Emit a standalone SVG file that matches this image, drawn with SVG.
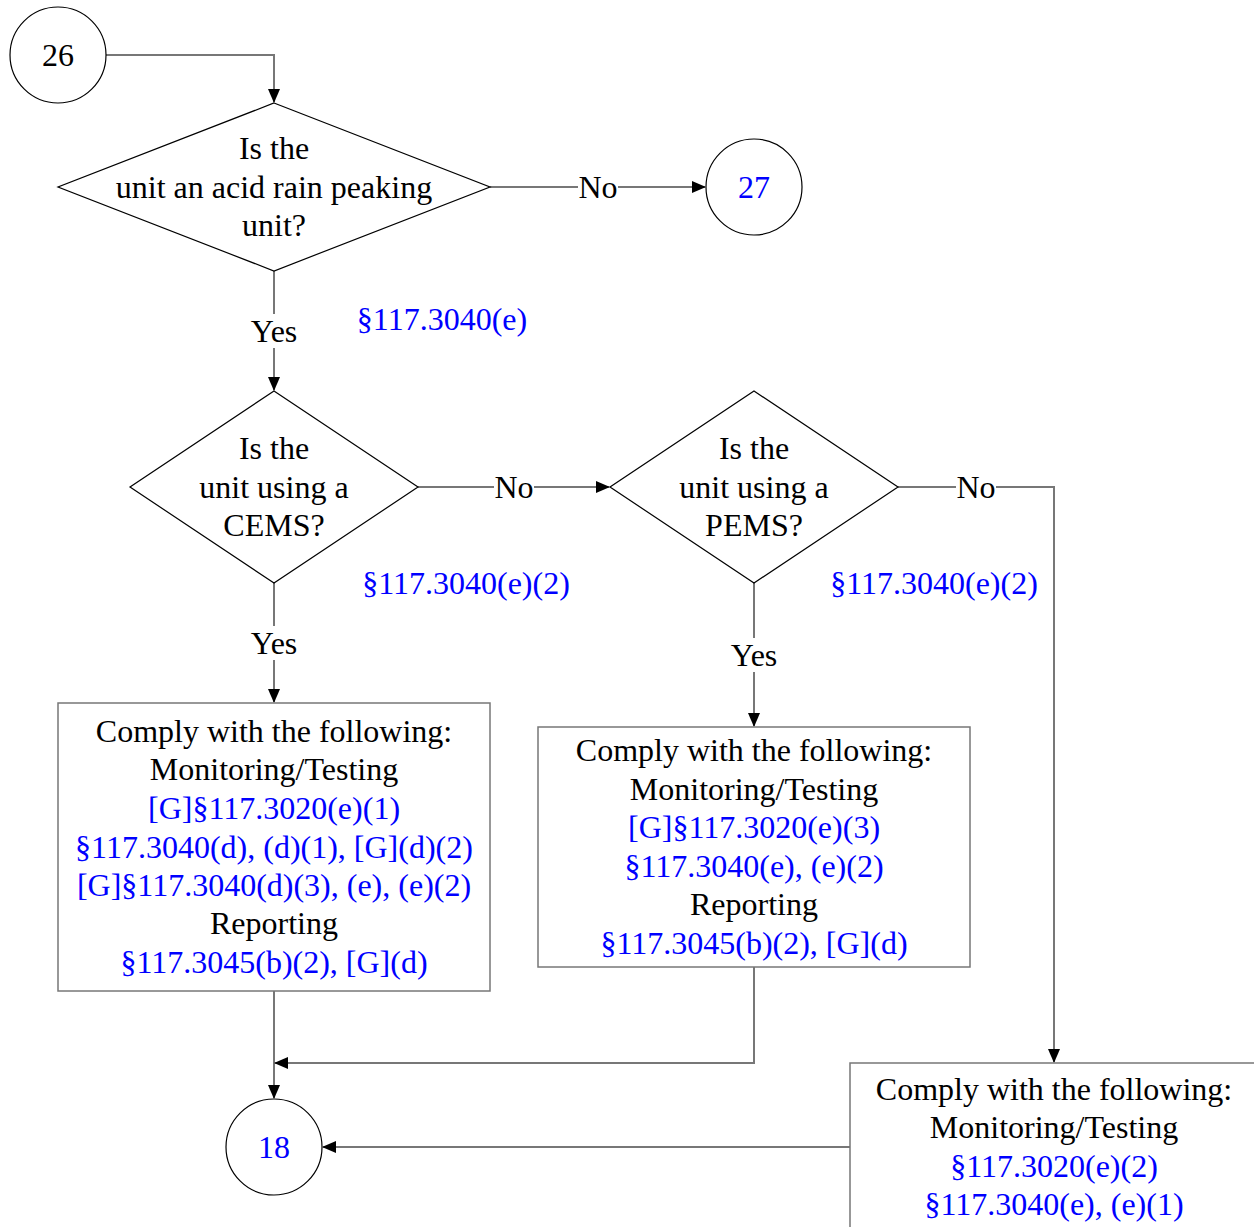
<svg xmlns="http://www.w3.org/2000/svg" width="1254" height="1227" viewBox="0 0 1254 1227">
<style>
text{font-family:"Liberation Serif","Times New Roman",serif;font-size:32px;text-anchor:middle;fill:#000}
.b{fill:#0000ff}
.shape{fill:#fff;stroke:#000;stroke-width:1.2}
.box{fill:#fff;stroke:#777;stroke-width:1.5}
.conn{fill:none;stroke:#777;stroke-width:2}
.lbg{fill:#fff}
</style>
<defs>
<marker id="ah" markerWidth="14" markerHeight="12" refX="13" refY="6" orient="auto" markerUnits="userSpaceOnUse">
<path d="M0,0 L14,6 L0,12 Z" fill="#000"/>
</marker>
</defs>
<g id="connectors">
<path class="conn" d="M106,55 H274 V102" marker-end="url(#ah)"/>
<path class="conn" d="M490,187 H705" marker-end="url(#ah)"/>
<path class="conn" d="M274,271 V390" marker-end="url(#ah)"/>
<path class="conn" d="M418,487 H609" marker-end="url(#ah)"/>
<path class="conn" d="M274,583 V702" marker-end="url(#ah)"/>
<path class="conn" d="M898,487 H1054 V1062" marker-end="url(#ah)"/>
<path class="conn" d="M754,583 V726" marker-end="url(#ah)"/>
<path class="conn" d="M274,991 V1098" marker-end="url(#ah)"/>
<path class="conn" d="M754,967 V1063 H275" marker-end="url(#ah)"/>
<path class="conn" d="M850,1147 H323" marker-end="url(#ah)"/>
<rect class="lbg" x="578" y="170" width="40" height="34"/>
<text x="598" y="198">No</text>
<rect class="lbg" x="248" y="314" width="52" height="34"/>
<text x="274" y="342">Yes</text>
<rect class="lbg" x="494" y="470" width="40" height="34"/>
<text x="514" y="498">No</text>
<rect class="lbg" x="248" y="626" width="52" height="34"/>
<text x="274" y="654">Yes</text>
<rect class="lbg" x="956" y="470" width="40" height="34"/>
<text x="976" y="498">No</text>
<rect class="lbg" x="728" y="638" width="52" height="34"/>
<text x="754" y="666">Yes</text>
<text class="b" x="442" y="330">§117.3040(e)</text>
<text class="b" x="466" y="594">§117.3040(e)(2)</text>
<text class="b" x="934" y="594">§117.3040(e)(2)</text>
</g>
<g id="n26">
<circle class="shape" cx="58" cy="55" r="48"/>
<text x="58" y="66">26</text>
</g>
<g id="d1">
<polygon class="shape" points="274,103 490,187 274,271 58,187"/>
<text x="274" y="159">Is the</text>
<text x="274" y="198">unit an acid rain peaking</text>
<text x="274" y="236">unit?</text>
</g>
<g id="n27">
<circle class="shape" cx="754" cy="187" r="48"/>
<text class="b" x="754" y="198">27</text>
</g>
<g id="d2">
<polygon class="shape" points="274,391 418,487 274,583 130,487"/>
<text x="274" y="459">Is the</text>
<text x="274" y="498">unit using a</text>
<text x="274" y="536">CEMS?</text>
</g>
<g id="d3">
<polygon class="shape" points="754,391 898,487 754,583 610,487"/>
<text x="754" y="459">Is the</text>
<text x="754" y="498">unit using a</text>
<text x="754" y="536">PEMS?</text>
</g>
<g id="box1">
<rect class="box" x="58" y="703" width="432" height="288"/>
<text x="274" y="742">Comply with the following:</text>
<text x="274" y="780">Monitoring/Testing</text>
<text class="b" x="274" y="819">[G]§117.3020(e)(1)</text>
<text class="b" x="274" y="858">§117.3040(d), (d)(1), [G](d)(2)</text>
<text class="b" x="274" y="896">[G]§117.3040(d)(3), (e), (e)(2)</text>
<text x="274" y="934">Reporting</text>
<text class="b" x="274" y="973">§117.3045(b)(2), [G](d)</text>
</g>
<g id="box2">
<rect class="box" x="538" y="727" width="432" height="240"/>
<text x="754" y="761">Comply with the following:</text>
<text x="754" y="800">Monitoring/Testing</text>
<text class="b" x="754" y="838">[G]§117.3020(e)(3)</text>
<text class="b" x="754" y="877">§117.3040(e), (e)(2)</text>
<text x="754" y="915">Reporting</text>
<text class="b" x="754" y="954">§117.3045(b)(2), [G](d)</text>
</g>
<g id="box3">
<rect class="box" x="850" y="1063" width="432" height="240"/>
<text x="1054" y="1100">Comply with the following:</text>
<text x="1054" y="1138">Monitoring/Testing</text>
<text class="b" x="1054" y="1177">§117.3020(e)(2)</text>
<text class="b" x="1054" y="1215">§117.3040(e), (e)(1)</text>
</g>
<g id="n18">
<circle class="shape" cx="274" cy="1147" r="48"/>
<text class="b" x="274" y="1158">18</text>
</g>
</svg>
